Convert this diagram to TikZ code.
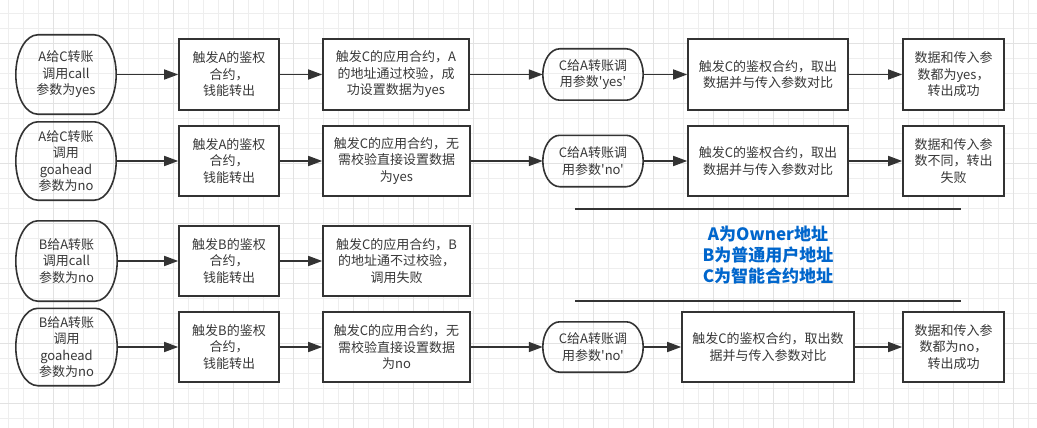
\documentclass[tikz,border=0pt]{standalone}
\usepackage{fontspec}
\setmainfont{Noto Sans CJK SC}[Ligatures=TeXOff]
\usetikzlibrary{arrows.meta,calc}
\definecolor{linec}{HTML}{333333}
\definecolor{txtc}{HTML}{383838}
\definecolor{bluec}{HTML}{0066CC}
\definecolor{gridminor}{HTML}{EEEEEE}
\definecolor{gridmajor}{HTML}{E2E2E2}
\newcommand\fs{\fontsize{13pt}{16.5pt}\selectfont}
\newcommand\termdraw[2]{%
  \draw[termline] let \p1=(#1.north east), \p2=(#1.south east) in
    ([xshift=#2pt]#1.north west) -- ([xshift=-#2pt]#1.north east)
    arc[start angle=90,end angle=-90,x radius=#2pt,y radius={0.5*(\y1-\y2)}]
    -- ([xshift=#2pt]#1.south west)
    arc[start angle=270,end angle=90,x radius=#2pt,y radius={0.5*(\y1-\y2)}] -- cycle;}
\tikzset{
  box/.style={draw=linec, line width=1.6pt, fill=white, align=center, font=\fs, text=txtc, inner sep=0pt},
  term/.style={align=center, font=\fs, text=txtc, inner sep=0pt},
  termline/.style={draw=linec, line width=1.6pt},
  arr/.style={draw=linec, line width=1.6pt, -{Triangle[length=14pt,width=10pt]}},
  sep/.style={draw=linec, line width=1.6pt},
}
\begin{document}
\begin{tikzpicture}[x=1pt,y=1pt]
\useasboundingbox (0,0) rectangle (1037,-428);
\fill[white] (0,0) rectangle (1037,-428);
% grid
\foreach \gx in {8,23,...,1037} \draw[gridminor, line width=0.8pt] (\gx,0) -- (\gx,-428);
\foreach \gy in {13,28,...,428} \draw[gridminor, line width=0.8pt] (0,-\gy) -- (1037,-\gy);
\foreach \gx in {53,113,...,1037} \draw[gridmajor, line width=0.8pt] (\gx,0) -- (\gx,-428);
\foreach \gy in {43,103,...,428} \draw[gridmajor, line width=0.8pt] (0,-\gy) -- (1037,-\gy);

% ---------- row 1
\node[term, minimum width=100pt, minimum height=79pt] (a1) at (66,-74.5) {A给C转账\\调用call\\参数为yes};
\termdraw{a1}{22}
\node[box, minimum width=100pt, minimum height=71pt] (a2) at (229,-74.5) {触发A的鉴权\\合约，\\钱能转出};
\node[box, minimum width=146pt, minimum height=71pt] (a3) at (396,-74.5) {触发C的应用合约，A\\的地址通过校验，成\\功设置数据为yes};
\node[term, minimum width=100pt, minimum height=51pt] (a4) at (593,-74.5) {C给A转账调\\用参数'yes'};
\termdraw{a4}{17}
\node[box, minimum width=160pt, minimum height=71pt] (a5) at (768,-74.5) {触发C的鉴权合约，取出\\数据并与传入参数对比};
\node[box, minimum width=101pt, minimum height=71pt] (a6) at (953.5,-74.5) {数据和传入参\\数都为yes，\\转出成功};
\draw[arr] (a1.east) -- (a2.west);
\draw[arr] (a2.east) -- (a3.west);
\draw[arr] (a3.east) -- (a4.west);
\draw[arr] (a4.east) -- (a5.west);
\draw[arr] (a5.east) -- (a6.west);

% ---------- row 2
\node[term, minimum width=100pt, minimum height=78pt] (b1) at (66,-161) {A给C转账\\调用\\goahead\\参数为no};
\termdraw{b1}{22}
\node[box, minimum width=100pt, minimum height=70pt] (b2) at (229,-161) {触发A的鉴权\\合约，\\钱能转出};
\node[box, minimum width=147pt, minimum height=70pt] (b3) at (396.5,-161) {触发C的应用合约，无\\需校验直接设置数据\\为yes};
\node[term, minimum width=100pt, minimum height=51pt] (b4) at (593,-161) {C给A转账调\\用参数'no'};
\termdraw{b4}{17}
\node[box, minimum width=160pt, minimum height=70pt] (b5) at (768,-161) {触发C的鉴权合约，取出\\数据并与传入参数对比};
\node[box, minimum width=101pt, minimum height=70pt] (b6) at (953.5,-161) {数据和传入参\\数不同，转出\\失败};
\draw[arr] (b1.east) -- (b2.west);
\draw[arr] (b2.east) -- (b3.west);
\draw[arr] (b3.east) -- (b4.west);
\draw[arr] (b4.east) -- (b5.west);
\draw[arr] (b5.east) -- (b6.west);

% ---------- legend
\draw[sep] (575,-209) -- (961,-209);
\node[font=\fontsize{17pt}{21pt}\selectfont\bfseries, text=bluec, align=center] (legend) at (768,-255) {A为Owner地址\\B为普通用户地址\\C为智能合约地址};
\draw[sep] (575,-301) -- (961,-301);

% ---------- row 3
\node[term, minimum width=101pt, minimum height=80pt] (c1) at (66.5,-261) {B给A转账\\调用call\\参数为no};
\termdraw{c1}{22}
\node[box, minimum width=100pt, minimum height=70pt] (c2) at (229,-261) {触发B的鉴权\\合约，\\钱能转出};
\node[box, minimum width=147pt, minimum height=70pt] (c3) at (396.5,-261) {触发C的应用合约，B\\的地址通不过校验，\\调用失败};
\draw[arr] (c1.east) -- (c2.west);
\draw[arr] (c2.east) -- (c3.west);

% ---------- row 4
\node[term, minimum width=101pt, minimum height=77pt] (d1) at (66.5,-347) {B给A转账\\调用\\goahead\\参数为no};
\termdraw{d1}{22}
\node[box, minimum width=100pt, minimum height=70pt] (d2) at (229,-347) {触发B的鉴权\\合约，\\钱能转出};
\node[box, minimum width=147pt, minimum height=70pt] (d3) at (396.5,-347) {触发C的应用合约，无\\需校验直接设置数据\\为no};
\node[term, minimum width=100pt, minimum height=50pt] (d4) at (593,-347) {C给A转账调\\用参数'no'};
\termdraw{d4}{17}
\node[box, minimum width=172pt, minimum height=70pt] (d5) at (768,-347) {触发C的鉴权合约，取出数\\据并与传入参数对比};
\node[box, minimum width=101pt, minimum height=70pt] (d6) at (953.5,-347) {数据和传入参\\数都为no，\\转出成功};
\draw[arr] (d1.east) -- (d2.west);
\draw[arr] (d2.east) -- (d3.west);
\draw[arr] (d3.east) -- (d4.west);
\draw[arr] (d4.east) -- (d5.west);
\draw[arr] (d5.east) -- (d6.west);
\end{tikzpicture}
\end{document}
